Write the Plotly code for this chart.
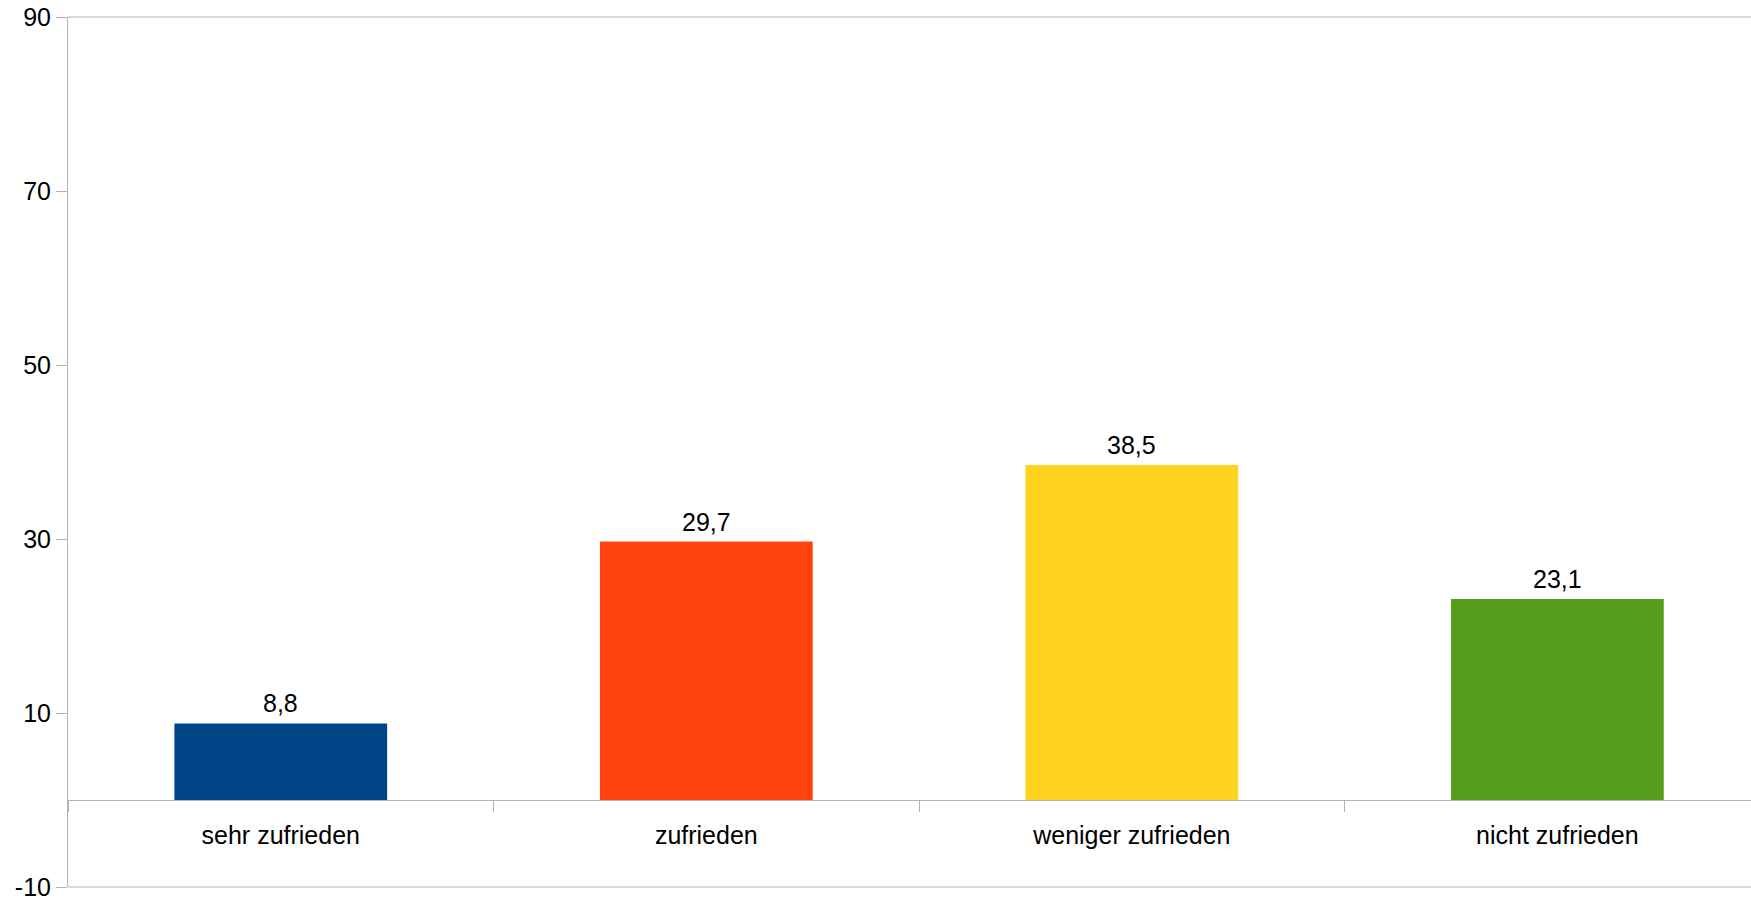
import plotly.graph_objects as go

categories = ["sehr zufrieden", "zufrieden", "weniger zufrieden", "nicht zufrieden"]
values = [8.8, 29.7, 38.5, 23.1]
colors = ["#004586", "#ff420e", "#ffd320", "#579d1c"]
y_tickvals = [-10, 10, 30, 50, 70, 90]
y_ticktext = ["-10", "10", "30", "50", "70", "90"]

AX = "#b3b3b3"
FONT = "Liberation Sans, Arial, sans-serif"

fig = go.Figure()
fig.add_trace(go.Bar(
    x=categories, y=values,
    marker=dict(color=colors, line=dict(width=0)),
    showlegend=False,
    hoverinfo="x+y",
))

annotations = [
    dict(x=c, y=v, xref="x", yref="y", text=f"{v:.1f}".replace(".", ","),
         showarrow=False, yanchor="bottom", xanchor="center", yshift=4,
         font=dict(size=25, color="black", family=FONT))
    for c, v in zip(categories, values)
]

fig.update_layout(
    width=1751, height=900,
    margin=dict(l=68, r=0, t=17, b=13),
    paper_bgcolor="white", plot_bgcolor="white",
    separators=",.",
    bargap=0.5,
    font=dict(family=FONT, size=25, color="black"),
    xaxis=dict(
        type="category",
        range=[-0.5, 3.455],
        anchor="free", position=0.1,
        automargin=False,
        showline=True, linecolor=AX, linewidth=1,
        ticks="outside", tickson="boundaries", ticklen=11, tickcolor=AX, tickwidth=1,
        showgrid=False, zeroline=False,
        tickfont=dict(size=25, color="black"),
        ticklabelstandoff=13,
    ),
    yaxis=dict(
        range=[-10, 90],
        tickvals=y_tickvals,
        ticktext=y_ticktext,
        automargin=False,
        ticklabeloverflow="allow",
        showline=True, linecolor=AX, linewidth=1,
        ticks="outside", ticklen=11, tickcolor=AX, tickwidth=1,
        showgrid=False, zeroline=False,
        tickfont=dict(size=25, color="black"),
    ),
    annotations=annotations,
    shapes=[
        dict(type="line", xref="paper", yref="paper", x0=0, x1=1, y0=1, y1=1,
             line=dict(color=AX, width=1)),
        dict(type="line", xref="paper", yref="paper", x0=0, x1=1, y0=0, y1=0,
             line=dict(color=AX, width=1)),
    ],
)

fig.write_html(
    "out.html",
    config={"displayModeBar": False},
    post_script="document.body.style.margin='0';document.body.style.overflow='hidden';",
)
